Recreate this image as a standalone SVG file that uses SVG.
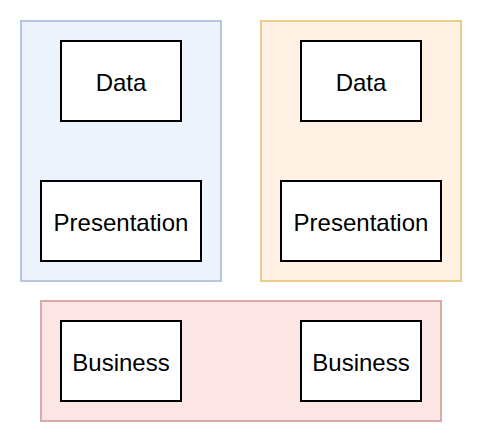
<svg xmlns="http://www.w3.org/2000/svg" width="482" height="446" viewBox="0 0 482 446">
<style>
.box{fill:#ffffff;stroke:#000000;stroke-width:2}
.lbl{font-family:"Liberation Sans",Arial,sans-serif;font-size:24px;fill:#000000;text-anchor:middle;dominant-baseline:central}
</style>
<rect width="482" height="446" fill="#ffffff"/>
<g id="container-blue"><rect x="21" y="21" width="200" height="260" fill="#edf3fd" stroke="#b5c6df" stroke-width="2"/></g>
<g id="container-orange"><rect x="261" y="21" width="200" height="260" fill="#fff2e5" stroke="#ebcd8a" stroke-width="2"/></g>
<g id="container-red"><rect x="41" y="301" width="400" height="120" fill="#fbe6e5" stroke="#dba9a7" stroke-width="2"/></g>
<g id="data-left"><rect class="box" x="61" y="41" width="120" height="80"/><text class="lbl" x="121" y="82">Data</text></g>
<g id="data-right"><rect class="box" x="301" y="41" width="120" height="80"/><text class="lbl" x="361" y="82">Data</text></g>
<g id="presentation-left"><rect class="box" x="41" y="181" width="160" height="80"/><text class="lbl" x="121" y="222">Presentation</text></g>
<g id="presentation-right"><rect class="box" x="281" y="181" width="160" height="80"/><text class="lbl" x="361" y="222">Presentation</text></g>
<g id="business-left"><rect class="box" x="61" y="321" width="120" height="80"/><text class="lbl" x="121" y="362">Business</text></g>
<g id="business-right"><rect class="box" x="301" y="321" width="120" height="80"/><text class="lbl" x="361" y="362">Business</text></g>
<g id="connectors"></g>
</svg>
